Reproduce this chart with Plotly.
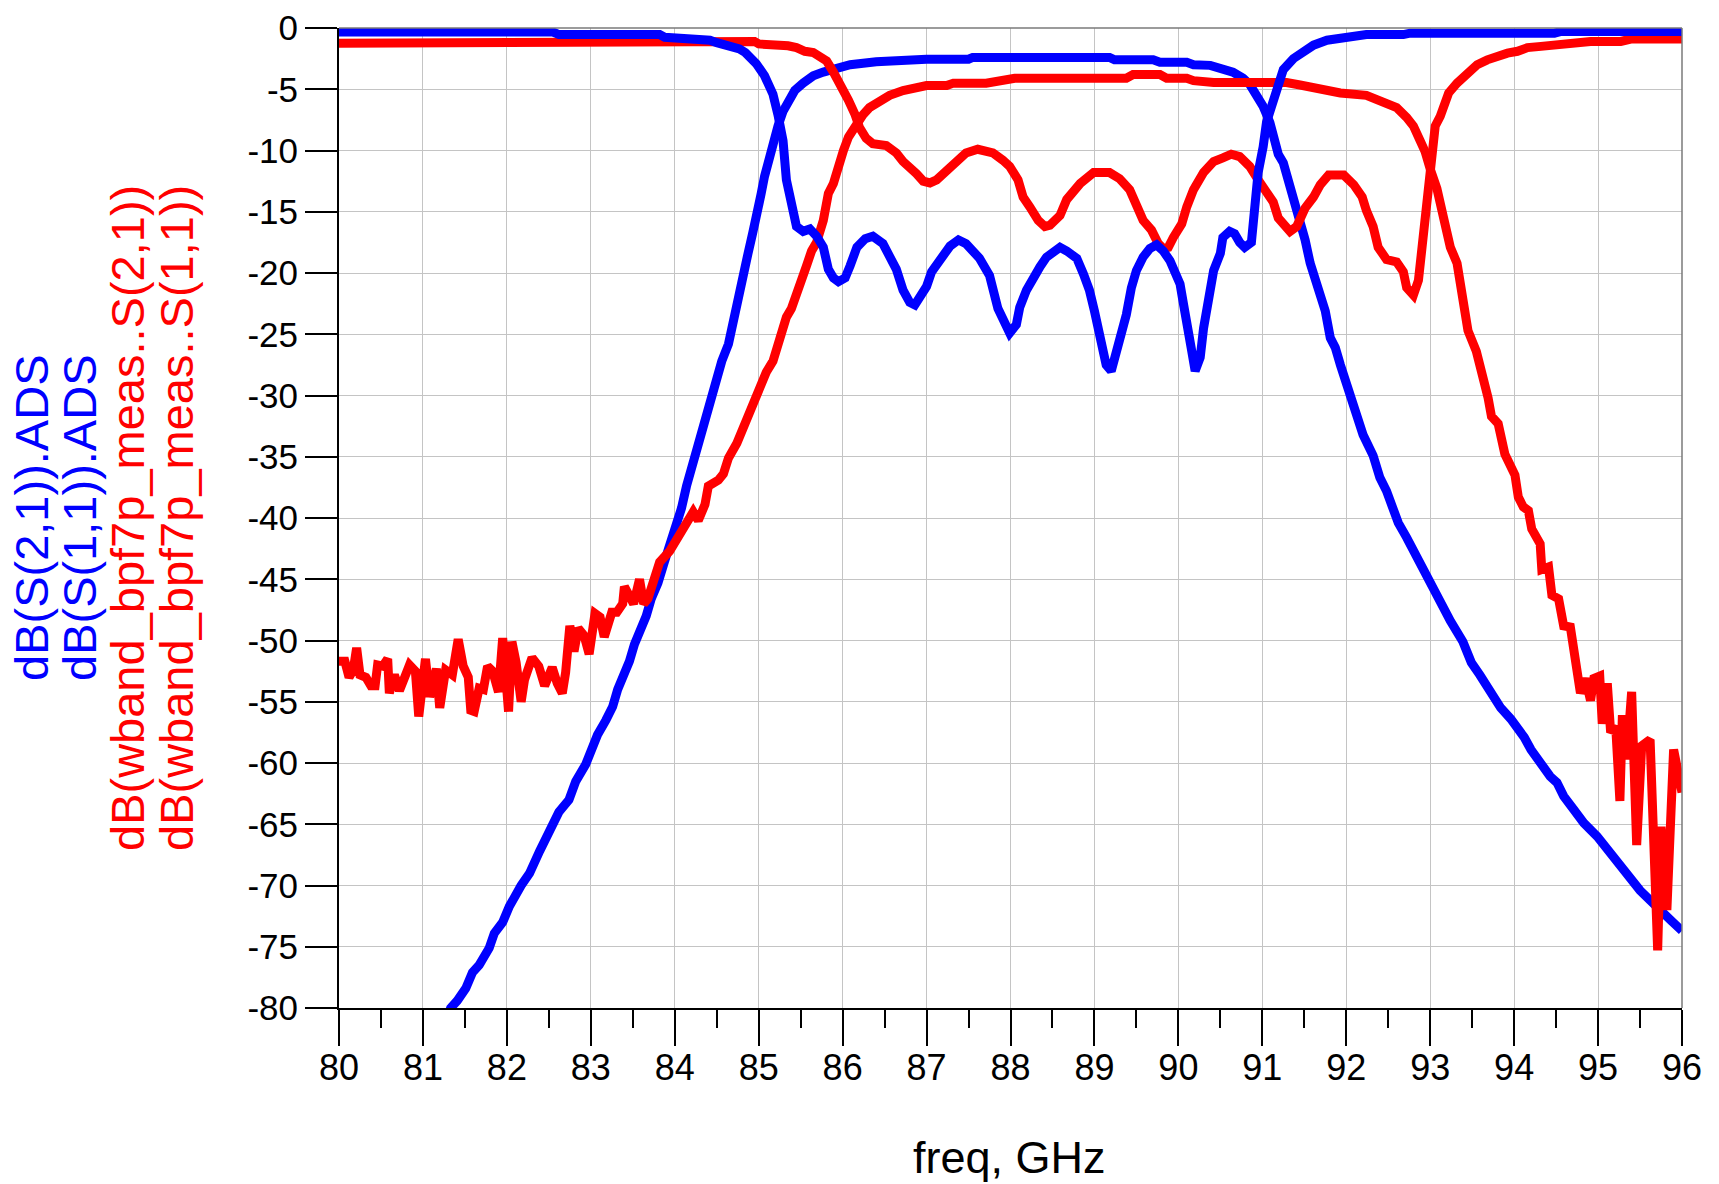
import plotly.graph_objects as go

# ---------------- data ----------------
# dB(S(2,1)).ADS  (blue, simulated transmission)
ads_s21_f = [81.25, 81.33, 81.41, 81.51, 81.59, 81.67, 81.79, 81.85, 81.95, 82.03, 82.17, 82.27,
             82.39, 82.52, 82.62, 82.74, 82.82, 82.94, 83.02, 83.08, 83.18, 83.26, 83.32, 83.40,
             83.46, 83.52, 83.60, 83.66, 83.72, 83.80, 83.88, 84.00, 84.08, 84.14, 84.22, 84.30,
             84.36, 84.42, 84.48, 84.56, 84.64, 84.70, 84.77, 84.83, 84.87, 84.93, 84.97, 85.03,
             85.07, 85.11, 85.17, 85.23, 85.29, 85.35, 85.43, 85.53, 85.65, 85.77, 85.93, 86.09,
             86.40, 86.68, 87.00, 87.50, 87.55, 89.18, 89.24, 89.70, 89.78, 90.10, 90.18, 90.38,
             90.50, 90.65, 90.77, 90.85, 90.93, 91.01, 91.09, 91.15, 91.19, 91.25, 91.31, 91.37,
             91.45, 91.51, 91.57, 91.63, 91.69, 91.75, 91.81, 91.87, 91.93, 91.98, 92.04, 92.12,
             92.20, 92.32, 92.40, 92.48, 92.52, 92.62, 92.72, 92.84, 92.96, 93.02, 93.16, 93.24,
             93.39, 93.49, 93.59, 93.72, 93.84, 93.96, 94.06, 94.12, 94.20, 94.31, 94.43, 94.51,
             94.59, 94.71, 94.83, 94.99, 95.11, 95.23, 95.38, 95.50, 95.62, 95.74, 95.86, 96.00]
ads_s21_db = [-81.6, -80.0, -79.4, -78.4, -77.1, -76.5, -75.1, -73.9, -73.0, -71.7, -70.0, -69.0,
              -67.2, -65.2, -64.0, -63.0, -61.5, -60.1, -58.6, -57.7, -56.5, -55.4, -54.0, -52.8,
              -51.7, -50.3, -49.2, -48.0, -46.6, -45.3, -43.5, -41.2, -39.2, -37.4, -35.4, -33.6,
              -31.9, -30.7, -29.3, -27.2, -25.8, -23.7, -22.0, -19.9, -18.5, -16.7, -15.0, -13.5,
              -12.1, -10.9, -9.2, -8.0, -6.8, -5.9, -5.1, -4.5, -3.9, -3.6, -3.3, -3.0,
              -2.75, -2.6, -2.55, -2.55, -2.4, -2.4, -2.6, -2.6, -2.8, -2.8, -3.0, -3.05,
              -3.35, -3.6, -4.1, -4.6, -5.5, -6.4, -7.7, -9.1, -10.3, -11.0, -12.4, -13.5,
              -15.4, -17.3, -19.2, -20.6, -22.0, -23.1, -25.3, -26.1, -27.5, -28.5, -29.9, -31.5,
              -33.2, -34.9, -36.7, -37.8, -38.5, -40.4, -41.6, -43.2, -45.0, -45.8, -47.3, -48.4,
              -50.1, -51.8, -52.8, -54.3, -55.5, -56.4, -57.2, -57.9, -58.9, -60.0, -61.1, -61.6,
              -62.7, -63.8, -64.9, -66.0, -67.1, -68.2, -69.3, -70.4, -71.2, -72.1, -72.8, -73.7]

# dB(S(1,1)).ADS  (blue, simulated reflection)
ads_s11_f = [80.00, 82.55, 82.62, 83.82, 83.88, 84.20, 84.26, 84.42, 84.50, 84.62, 84.70, 84.77,
             84.84, 84.89, 84.97, 85.07, 85.17, 85.23, 85.29, 85.33, 85.39, 85.45, 85.53, 85.61,
             85.69, 85.77, 85.83, 85.89, 85.95, 86.03, 86.09, 86.17, 86.27, 86.36, 86.48, 86.56,
             86.64, 86.72, 86.80, 86.86, 86.92, 87.00, 87.06, 87.16, 87.28, 87.38, 87.47, 87.63,
             87.75, 87.85, 87.93, 87.99, 88.07, 88.11, 88.19, 88.27, 88.35, 88.43, 88.51, 88.59,
             88.67, 88.79, 88.87, 88.94, 89.00, 89.06, 89.10, 89.14, 89.20, 89.26, 89.32, 89.38,
             89.44, 89.50, 89.58, 89.66, 89.74, 89.82, 89.90, 89.96, 90.02, 90.06, 90.10, 90.16,
             90.20, 90.26, 90.30, 90.36, 90.42, 90.50, 90.53, 90.61, 90.67, 90.73, 90.79, 90.87,
             90.91, 90.95, 91.01, 91.05, 91.11, 91.17, 91.25, 91.37, 91.49, 91.61, 91.77, 91.97,
             92.24, 92.68, 92.76, 94.48, 94.56, 96.00]
ads_s11_db = [-0.33, -0.33, -0.54, -0.54, -0.76, -0.8, -0.98, -1.0, -1.2, -1.35, -1.5, -1.7,
              -2.0, -2.3, -2.9, -3.9, -5.4, -7.1, -9.2, -12.4, -14.4, -16.2, -16.6, -16.4,
              -17.0, -17.9, -19.7, -20.4, -20.7, -20.4, -19.4, -17.9, -17.2, -17.0, -17.6, -18.8,
              -19.7, -21.4, -22.4, -22.6, -22.0, -21.1, -19.9, -18.8, -17.8, -17.3, -17.6, -18.8,
              -20.2, -22.9, -24.3, -24.9, -24.2, -22.8, -21.4, -20.3, -19.5, -18.7, -18.2, -17.9,
              -18.2, -18.8, -20.1, -21.4, -23.1, -24.7, -26.4, -27.5, -28.0, -26.6, -25.0, -23.4,
              -21.2, -19.8, -18.7, -18.0, -17.7, -18.2, -19.0, -19.8, -20.9, -22.5, -24.5, -26.4,
              -28.0, -26.9, -24.5, -22.5, -19.8, -18.4, -17.1, -16.6, -16.8, -17.5, -17.9, -17.5,
              -14.3, -11.8, -9.7, -7.7, -6.4, -5.0, -3.4, -2.5, -1.85, -1.4, -1.0, -0.75,
              -0.54, -0.54, -0.42, -0.42, -0.28, -0.28]

# dB(wband_bpf7p_meas..S(2,1))  (red, measured transmission)
meas_s21_f = [80.00, 80.07, 80.12, 80.17, 80.21, 80.25, 80.32, 80.38, 80.43, 80.46, 80.52, 80.58,
              80.60, 80.66, 80.72, 80.78, 80.84, 80.91, 80.95, 81.03, 81.08, 81.16, 81.20, 81.27,
              81.35, 81.42, 81.48, 81.54, 81.57, 81.61, 81.67, 81.72, 81.77, 81.83, 81.90, 81.95,
              82.00, 82.02, 82.06, 82.11, 82.17, 82.21, 82.30, 82.38, 82.45, 82.50, 82.54, 82.60,
              82.66, 82.70, 82.75, 82.80, 82.85, 82.92, 82.98, 83.05, 83.11, 83.16, 83.20, 83.25,
              83.31, 83.38, 83.40, 83.46, 83.51, 83.58, 83.63, 83.68, 83.74, 83.82, 83.94, 84.04,
              84.14, 84.22, 84.28, 84.36, 84.40, 84.52, 84.58, 84.64, 84.74, 84.80, 84.87, 84.97,
              85.03, 85.09, 85.17, 85.23, 85.29, 85.33, 85.39, 85.47, 85.53, 85.57, 85.63, 85.69,
              85.77, 85.83, 85.89, 85.95, 86.01, 86.07, 86.17, 86.24, 86.32, 86.44, 86.56, 86.72,
              86.88, 87.00, 87.24, 87.32, 87.71, 87.79, 87.99, 88.05, 89.38, 89.46, 89.78, 89.86,
              90.10, 90.18, 90.42, 91.29, 91.45, 91.69, 91.93, 92.24, 92.44, 92.60, 92.72, 92.80,
              92.88, 92.94, 93.00, 93.08, 93.16, 93.24, 93.32, 93.36, 93.45, 93.55, 93.63, 93.69,
              93.73, 93.81, 93.89, 94.01, 94.05, 94.11, 94.17, 94.21, 94.31, 94.33, 94.41, 94.45,
              94.53, 94.59, 94.67, 94.73, 94.79, 94.85, 94.91, 94.95, 95.02, 95.05, 95.11, 95.15,
              95.21, 95.26, 95.29, 95.34, 95.40, 95.46, 95.52, 95.62, 95.66, 95.71, 95.75, 95.82,
              95.90, 96.00]
meas_s21_db = [-51.7, -51.7, -53.0, -52.4, -50.6, -52.8, -53.0, -53.7, -53.7, -52.0, -52.1, -51.5,
               -54.3, -52.8, -54.1, -53.2, -52.0, -52.5, -56.2, -51.5, -54.6, -52.3, -55.5, -52.4,
               -52.8, -49.9, -52.1, -53.0, -55.7, -55.8, -53.9, -54.0, -52.1, -52.5, -54.2, -49.8,
               -55.4, -55.8, -50.1, -51.8, -55.0, -53.2, -51.4, -52.1, -53.7, -52.8, -52.2, -53.5,
               -54.3, -52.6, -48.8, -50.9, -49.0, -49.6, -51.1, -47.8, -48.1, -49.7, -48.7, -47.7,
               -47.7, -47.0, -45.6, -46.2, -47.0, -45.0, -47.0, -46.6, -45.1, -43.6, -42.7, -41.5,
               -40.6, -39.5, -40.2, -38.9, -37.4, -36.9, -36.4, -35.1, -33.9, -32.9, -31.6, -29.9,
               -29.3, -28.1, -27.2, -25.8, -24.9, -23.6, -22.9, -21.5, -20.5, -19.4, -18.2, -17.5,
               -15.7, -13.5, -12.7, -11.0, -10.0, -8.9, -7.7, -7.1, -6.5, -5.9, -5.5, -5.1,
               -4.85, -4.7, -4.7, -4.5, -4.5, -4.4, -4.3, -4.1, -4.1, -3.8, -3.8, -4.1,
               -4.1, -4.3, -4.45, -4.45, -4.65, -5.0, -5.3, -5.5, -6.0, -6.5, -7.3, -8.0,
               -9.2, -10.1, -11.5, -13.1, -15.5, -17.9, -19.2, -21.2, -24.7, -26.4, -28.3, -30.2,
               -31.7, -32.3, -34.8, -36.5, -38.3, -39.1, -39.4, -40.9, -42.1, -44.2, -44.0, -46.3,
               -46.6, -48.8, -48.9, -51.9, -54.3, -53.1, -54.9, -53.1, -52.9, -56.8, -53.5, -57.5,
               -57.0, -63.1, -56.1, -59.7, -54.2, -66.7, -58.6, -58.1, -64.9, -75.3, -65.2, -72.0,
               -58.9, -62.4]

# dB(wband_bpf7p_meas..S(1,1))  (red, measured reflection)
meas_s11_f = [80.00, 82.28, 82.36, 84.95, 85.00, 85.29, 85.35, 85.45, 85.55, 85.65, 85.73, 85.81,
              85.89, 85.99, 86.07, 86.15, 86.20, 86.28, 86.36, 86.52, 86.64, 86.72, 86.80, 86.88,
              86.96, 87.04, 87.12, 87.24, 87.36, 87.47, 87.61, 87.79, 87.91, 87.99, 88.09, 88.15,
              88.23, 88.33, 88.41, 88.47, 88.59, 88.67, 88.83, 88.99, 89.18, 89.30, 89.42, 89.50,
              89.58, 89.68, 89.76, 89.82, 89.88, 89.94, 90.04, 90.10, 90.18, 90.30, 90.42, 90.53,
              90.63, 90.73, 90.85, 90.95, 91.05, 91.13, 91.19, 91.27, 91.33, 91.41, 91.51, 91.61,
              91.69, 91.79, 91.97, 92.09, 92.19, 92.24, 92.32, 92.38, 92.48, 92.60, 92.68, 92.72,
              92.80, 92.86, 92.92, 92.96, 93.00, 93.06, 93.12, 93.22, 93.32, 93.44, 93.56, 93.68,
              93.80, 93.92, 94.04, 94.16, 94.32, 94.55, 94.83, 94.91, 95.27, 95.39, 96.00]
meas_s11_db = [-1.25, -1.25, -1.08, -1.1, -1.3, -1.3, -1.45, -1.6, -1.9, -2.0, -2.3, -2.7,
               -3.6, -4.8, -5.9, -7.1, -8.1, -9.0, -9.45, -9.6, -10.2, -10.9, -11.3, -11.9,
               -12.5, -12.65, -12.4, -11.6, -10.9, -10.2, -9.9, -10.2, -10.8, -11.3, -12.4, -13.8,
               -14.6, -15.7, -16.2, -16.1, -15.3, -14.0, -12.7, -11.8, -11.8, -12.3, -13.2, -14.6,
               -15.7, -16.5, -17.6, -18.0, -17.9, -17.1, -16.0, -14.6, -13.2, -11.8, -10.9, -10.6,
               -10.3, -10.5, -11.3, -12.4, -13.5, -14.2, -15.5, -16.2, -16.6, -16.2, -14.7, -13.8,
               -12.8, -12.0, -12.0, -12.8, -13.8, -14.9, -16.2, -17.9, -18.9, -19.1, -19.9, -21.2,
               -21.8, -20.6, -16.8, -13.5, -10.2, -8.0, -7.2, -5.3, -4.5, -3.7, -3.0, -2.6,
               -2.3, -2.05, -1.9, -1.6, -1.5, -1.35, -1.25, -1.1, -1.1, -0.9, -0.9]

x_ticks = list(range(80, 97))
y_ticks = list(range(-80, 1, 5))

y_title_lines = [
    ("dB(S(2,1)).ADS", "#0000ff"),
    ("dB(S(1,1)).ADS", "#0000ff"),
    ("dB(wband_bpf7p_meas..S(2,1))", "#ff0000"),
    ("dB(wband_bpf7p_meas..S(1,1))", "#ff0000"),
]
x_title = "freq, GHz"

# ---------------- figure ----------------
W, H = 1719, 1184
L, R, T, B = 339, 37, 28, 176
PW, PH = W - L - R, H - T - B
FONT = "Liberation Sans, Arial, Helvetica, sans-serif"
BLUE, RED = "#0000ff", "#ff0000"
LW = 9

fig = go.Figure()
fig.add_trace(go.Scatter(x=ads_s21_f, y=ads_s21_db, mode="lines",
                         line=dict(color=BLUE, width=LW), name="dB(S(2,1)).ADS"))
fig.add_trace(go.Scatter(x=meas_s21_f, y=meas_s21_db, mode="lines",
                         line=dict(color=RED, width=LW), name="dB(wband_bpf7p_meas..S(2,1))"))
fig.add_trace(go.Scatter(x=meas_s11_f, y=meas_s11_db, mode="lines",
                         line=dict(color=RED, width=LW), name="dB(wband_bpf7p_meas..S(1,1))"))
fig.add_trace(go.Scatter(x=ads_s11_f, y=ads_s11_db, mode="lines",
                         line=dict(color=BLUE, width=LW), name="dB(S(1,1)).ADS"))

fig.update_layout(
    width=W, height=H,
    margin=dict(l=L, r=R, t=T, b=B, pad=0, autoexpand=False),
    paper_bgcolor="white", plot_bgcolor="white",
    showlegend=False,
    font=dict(family=FONT, size=35, color="black"),
)

fig.update_xaxes(
    range=[80, 96], tickvals=x_ticks, ticktext=[str(v) for v in x_ticks],
    automargin=False,
    showgrid=True, gridcolor="#c4c4c4", gridwidth=1.2,
    zeroline=False,
    showline=True, linecolor="black", linewidth=2,
    ticks="outside", ticklen=36, tickwidth=1.5, tickcolor="black",
    ticklabelstandoff=-9,
    tickfont=dict(family=FONT, size=36, color="black"),
    minor=dict(dtick=0.5, tick0=80, ticks="outside", ticklen=18, tickwidth=1.5,
               tickcolor="black", showgrid=False),
)
fig.update_yaxes(
    range=[-80, 0], tickvals=y_ticks, ticktext=[str(v) for v in y_ticks],
    automargin=False,
    showgrid=True, gridcolor="#c4c4c4", gridwidth=1.2,
    zeroline=False,
    showline=True, linecolor="black", linewidth=2,
    ticks="outside", ticklen=32, tickwidth=1.5, tickcolor="black",
    ticklabelstandoff=0,
    tickfont=dict(family=FONT, size=35, color="black"),
)

# gray top / right frame
fig.add_shape(type="line", xref="paper", yref="paper", x0=0, x1=1, y0=1, y1=1,
              line=dict(color="#7a7a7a", width=1.5), layer="above")
fig.add_shape(type="line", xref="paper", yref="paper", x0=1, x1=1, y0=0, y1=1,
              line=dict(color="#7a7a7a", width=1.5), layer="above")

# stacked, colored y-axis title (four rotated lines)
centers_px = [31, 79, 127, 176]
for (txt, col), cx in zip(y_title_lines, centers_px):
    fig.add_annotation(text=txt, textangle=-90, xref="paper", yref="paper",
                       x=(cx - L) / PW, y=0.5, xanchor="center", yanchor="middle",
                       showarrow=False, font=dict(family=FONT, size=47, color=col))

# x-axis title
fig.add_annotation(text=x_title, xref="paper", yref="paper",
                   x=(1009 - L) / PW, y=-(1157 - (T + PH)) / PH,
                   xanchor="center", yanchor="middle", showarrow=False,
                   font=dict(family=FONT, size=45, color="black"))

fig.write_html("out.html")
